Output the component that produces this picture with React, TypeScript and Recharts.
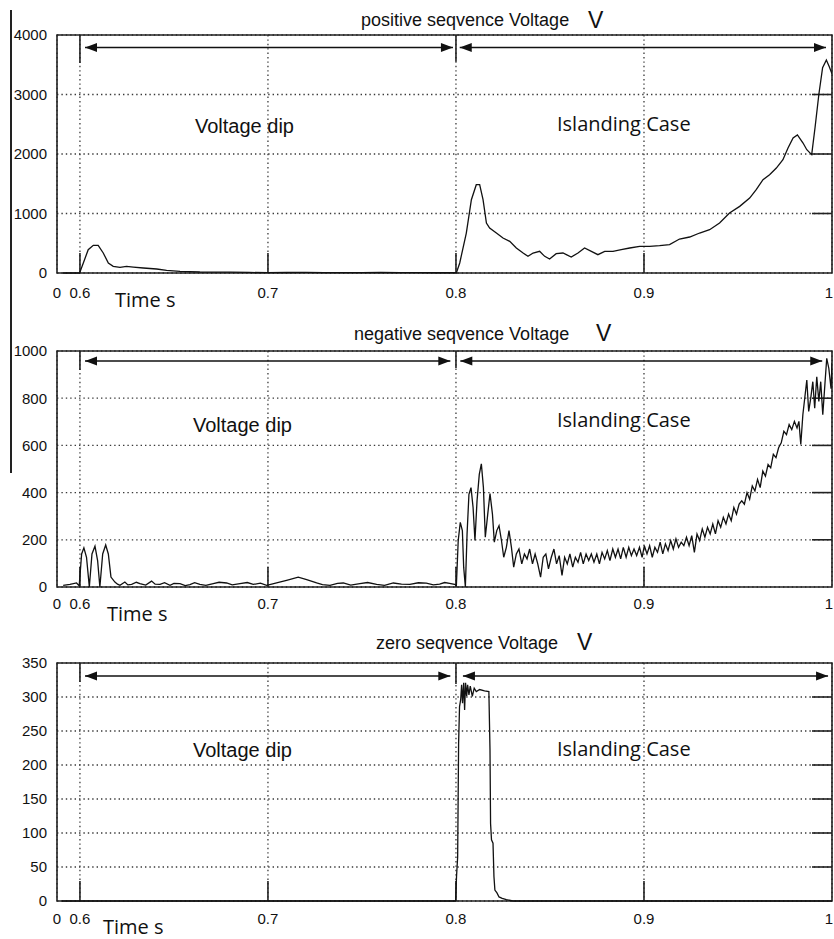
import React from 'react';
import { LineChart, Line, XAxis, YAxis, CartesianGrid, ReferenceLine, ReferenceArea } from 'recharts';

// left edge of the time axis is labelled "0" (broken axis), then 0.6 ... 1
const X_ZERO = 0.5878;
const xTicks = [X_ZERO, 0.6, 0.7, 0.8, 0.9, 1];
const innerXTicks = [0.6, 0.7, 0.8, 0.9];

const posTicks = [0, 1000, 2000, 3000, 4000];
const negTicks = [0, 200, 400, 600, 800, 1000];
const zeroTicks = [0, 50, 100, 150, 200, 250, 300, 350];

// [time s, volts]
const positiveSeq: [number, number][] = [
  [0.591, 0], [0.5998, 0], [0.6018, 168], [0.6044, 392], [0.6071, 465], [0.6097, 465], [0.6124, 336],
  [0.6151, 168], [0.6177, 112], [0.6213, 95], [0.6248, 112], [0.6284, 100], [0.6337, 84], [0.6408, 67],
  [0.6461, 45], [0.6532, 28], [0.6638, 17], [0.68, 14], [0.69, 9], [0.7, 6], [0.71, 8], [0.72, 10],
  [0.73, 7], [0.74, 6], [0.75, 5], [0.76, 8], [0.77, 5], [0.78, 6], [0.79, 4], [0.7998, 5],
  [0.8002, 0], [0.802, 168], [0.8055, 672], [0.8082, 1232], [0.8108, 1484], [0.8126, 1484], [0.8144, 1232],
  [0.8162, 840], [0.8179, 756], [0.8215, 672], [0.825, 588], [0.8286, 532], [0.8321, 420], [0.8357, 336],
  [0.8383, 280], [0.841, 336], [0.8445, 364], [0.8472, 280], [0.8498, 235], [0.8533, 325], [0.8569, 336],
  [0.8613, 269], [0.8649, 336], [0.8684, 420], [0.872, 364], [0.8755, 308], [0.8791, 364], [0.8835, 364],
  [0.8879, 392], [0.8924, 420], [0.8977, 448], [0.903, 448], [0.9083, 459], [0.9136, 476], [0.9189, 571],
  [0.9243, 605], [0.9296, 672], [0.9349, 728], [0.9402, 840], [0.9455, 1008], [0.9509, 1120], [0.9562, 1260],
  [0.9597, 1400], [0.9633, 1568], [0.9668, 1652], [0.9704, 1764], [0.9739, 1904], [0.9766, 2100],
  [0.9793, 2268], [0.9816, 2320], [0.9846, 2184], [0.9866, 2072], [0.9892, 1990], [0.991, 2450],
  [0.993, 3000], [0.995, 3450], [0.997, 3580], [0.9985, 3470], [1, 3350],
];

const negativeSeq: [number, number][] = [
  [0.5911, 7], [0.5947, 11], [0.5982, 17], [0.5996, 5], [0.6009, 140], [0.6021, 166], [0.6035, 126],
  [0.605, 0], [0.6064, 140], [0.608, 173], [0.6094, 112], [0.6106, 0], [0.6121, 140], [0.6137, 178],
  [0.6151, 140], [0.6165, 42], [0.6186, 21], [0.62, 12], [0.6213, 7], [0.6239, 21], [0.6255, 9],
  [0.6275, 11], [0.63, 20], [0.6319, 14], [0.635, 8], [0.6381, 25], [0.64, 12], [0.6426, 11], [0.645, 18],
  [0.6479, 7], [0.65, 15], [0.6532, 14], [0.656, 6], [0.6585, 10], [0.661, 18], [0.6638, 11], [0.667, 7],
  [0.6709, 14], [0.674, 20], [0.678, 17], [0.681, 9], [0.6851, 14], [0.689, 19], [0.6922, 11], [0.696, 16],
  [0.6993, 7], [0.702, 12], [0.7046, 17], [0.7099, 28], [0.7161, 42], [0.7206, 31], [0.7259, 17], [0.729, 10],
  [0.733, 7], [0.737, 15], [0.7401, 17], [0.744, 8], [0.7489, 14], [0.753, 19], [0.7578, 11], [0.762, 7],
  [0.7667, 17], [0.771, 12], [0.7755, 11], [0.78, 18], [0.7842, 16], [0.788, 9], [0.7913, 12], [0.794, 19],
  [0.7966, 15], [0.7998, 10],
  [0.8002, 3], [0.8012, 197], [0.8023, 274], [0.8034, 239], [0.8041, 84], [0.805, 0], [0.8059, 225],
  [0.8069, 393], [0.808, 421], [0.8091, 337], [0.8101, 197], [0.8112, 365], [0.8124, 477], [0.8135, 522],
  [0.8146, 421], [0.8156, 211], [0.8169, 309], [0.8181, 396], [0.8194, 309], [0.8204, 190], [0.8217, 239],
  [0.8229, 260], [0.8242, 197], [0.8254, 126], [0.8268, 168], [0.8282, 239], [0.8295, 168], [0.8307, 84],
  [0.8321, 140], [0.8335, 161], [0.835, 98], [0.8364, 140], [0.8378, 119], [0.8392, 161], [0.8407, 98],
  [0.8421, 140], [0.8435, 98], [0.845, 42], [0.8464, 126], [0.8478, 140], [0.8492, 77], [0.8507, 126],
  [0.8521, 161], [0.8535, 98], [0.8549, 133], [0.8564, 49], [0.8578, 126], [0.8592, 98], [0.8606, 140],
  [0.8621, 84], [0.8635, 126], [0.8649, 105], [0.8663, 147], [0.8677, 98], [0.8692, 140], [0.8706, 112],
  [0.872, 140], [0.8734, 105], [0.8749, 140], [0.8763, 98], [0.8777, 147], [0.8791, 119], [0.8805, 154],
  [0.8819, 112], [0.8834, 161], [0.8848, 126], [0.8862, 161], [0.8876, 119], [0.889, 168], [0.8905, 126],
  [0.8919, 168], [0.8933, 133], [0.8947, 161], [0.8961, 133], [0.8976, 168], [0.899, 126], [0.9002, 175],
  [0.9016, 140], [0.903, 175], [0.9044, 126], [0.9058, 168], [0.9072, 147], [0.9086, 190], [0.91, 140],
  [0.9114, 183], [0.9128, 154], [0.9142, 197], [0.9156, 161], [0.917, 204], [0.9184, 168], [0.9198, 190],
  [0.9212, 175], [0.9226, 211], [0.924, 175], [0.9254, 218], [0.9268, 147], [0.9282, 225], [0.9296, 197],
  [0.931, 246], [0.9324, 211], [0.9338, 253], [0.9352, 225], [0.9366, 267], [0.938, 225], [0.9394, 281],
  [0.9408, 253], [0.9422, 295], [0.9436, 267], [0.945, 309], [0.9464, 281], [0.9478, 337], [0.9492, 309],
  [0.9506, 351], [0.952, 365], [0.9534, 351], [0.9548, 400], [0.9562, 372], [0.9576, 428], [0.959, 407],
  [0.9604, 456], [0.9618, 421], [0.9632, 491], [0.9646, 470], [0.966, 519], [0.9674, 505], [0.9688, 562],
  [0.9702, 548], [0.9716, 590], [0.973, 611], [0.9744, 660], [0.9758, 646], [0.9772, 688], [0.9786, 667],
  [0.98, 702], [0.9814, 674], [0.9824, 702], [0.9834, 604], [0.9845, 730], [0.9855, 800], [0.9866, 877],
  [0.9876, 744], [0.9887, 800], [0.9898, 870], [0.9908, 758], [0.9919, 891], [0.993, 786], [0.994, 870],
  [0.9951, 730], [0.9962, 856], [0.9972, 969], [0.9983, 927], [0.9995, 840], [1, 950],
];

const zeroSeq: [number, number][] = [
  [0.5903, 0], [0.7998, 0], [0.8003, 36], [0.8009, 65], [0.8014, 232], [0.8019, 286], [0.8025, 296],
  [0.803, 318], [0.8035, 291], [0.8041, 321], [0.8046, 281], [0.8051, 321], [0.8057, 301], [0.8062, 318],
  [0.8069, 303], [0.8076, 316], [0.8087, 301], [0.8097, 313], [0.8108, 308], [0.8126, 311], [0.8152, 309],
  [0.8175, 308], [0.8181, 222], [0.8184, 114], [0.8189, 90], [0.8197, 85], [0.8202, 36], [0.8207, 16],
  [0.8218, 12], [0.8229, 6], [0.8246, 4], [0.8268, 2], [0.8303, 0], [1, 0],
];

const toRows = (pts: [number, number][]) => pts.map(([t, v]) => ({ t, v }));

const FONT = '"Liberation Sans", Arial, sans-serif';
const tickFont = { fill: '#111', fontSize: 15, fontFamily: FONT };

// x tick: first one reads "0", last one ("1") is pulled inside the picture
const XTick = (props: any) => {
  const { x, y, payload } = props;
  const v = payload.value;
  const last = v === 1;
  return (
    <text x={last ? x + 1 : x} y={y} dy="0.71em" textAnchor={last ? 'end' : 'middle'} fill="#111" fontSize={15} fontFamily={FONT}>
      {v === X_ZERO ? '0' : String(v)}
    </text>
  );
};

const ArrowShape = (props: any) => {
  const { x1, y1, x2, y2 } = props;
  const h = 12;
  const w = 4.5;
  return (
    <g>
      <line x1={x1} y1={y1} x2={x2} y2={y2} stroke="#111" strokeWidth={1.5} />
      <polygon points={`${x1},${y1} ${x1 + h},${y1 - w} ${x1 + h},${y1 + w}`} fill="#111" />
      <polygon points={`${x2},${y2} ${x2 - h},${y2 - w} ${x2 - h},${y2 + w}`} fill="#111" />
    </g>
  );
};

type PanelProps = {
  top: number;
  height: number;
  marginTop: number;
  marginBottom: number;
  tickGap: number;
  series: [number, number][];
  yTicks: number[];
  arrowY: number;
  arrows: [number, number][];
  markerEnds: [number, number];
};

function Panel({ top, height, marginTop, marginBottom, tickGap, series, yTicks, arrowY, arrows, markerEnds }: PanelProps) {
  const yMax = yTicks[yTicks.length - 1];
  const plotH = height - marginTop - marginBottom - 30;
  const tickLen = (20 / plotH) * yMax;
  const rightTickStart = 1 - (20 * (1 - X_ZERO)) / 775;
  return (
    <div style={{ position: 'absolute', left: 0, top }}>
      <LineChart width={834} height={height} data={toRows(series)} margin={{ top: marginTop, right: 2, bottom: marginBottom, left: 0 }}>
        <CartesianGrid stroke="#3a3a3a" strokeWidth={1.3} strokeDasharray="1.4 3" />
        <XAxis
          type="number"
          dataKey="t"
          domain={[X_ZERO, 1]}
          ticks={xTicks}
          interval={0}
          allowDataOverflow
          height={30}
          axisLine={false}
          tickLine={false}
          tickSize={0}
          tickMargin={tickGap}
          tick={XTick}
        />
        <YAxis
          type="number"
          domain={[0, yMax]}
          ticks={yTicks}
          interval={0}
          width={57}
          axisLine={false}
          tickLine={false}
          tickSize={0}
          tickMargin={10}
          tick={tickFont}
        />
        <ReferenceArea x1={X_ZERO} x2={1} y1={0} y2={yMax} fill="none" stroke="#222" strokeWidth={1.6} />
        {innerXTicks.map((x) => (
          <ReferenceLine key={`b${x}`} segment={[{ x, y: 0 }, { x, y: tickLen }]} stroke="#222" strokeWidth={1.6} />
        ))}
        {yTicks.slice(1, -1).map((y) => (
          <ReferenceLine key={`r${y}`} segment={[{ x: rightTickStart, y }, { x: 1, y }]} stroke="#222" strokeWidth={1.6} />
        ))}
        <ReferenceLine segment={[{ x: 0.6, y: yMax }, { x: 0.6, y: markerEnds[0] }]} stroke="#222" strokeWidth={1.6} />
        <ReferenceLine segment={[{ x: 0.8, y: yMax }, { x: 0.8, y: markerEnds[1] }]} stroke="#222" strokeWidth={1.6} />
        {arrows.map(([a, b]) => (
          <ReferenceLine key={`a${a}`} segment={[{ x: a, y: arrowY }, { x: b, y: arrowY }]} shape={ArrowShape} />
        ))}
        <Line type="linear" dataKey="v" stroke="#111" strokeWidth={1.3} dot={false} isAnimationActive={false} />
      </LineChart>
    </div>
  );
}

const Txt = ({ x, y, size, font, children }: { x: number; y: number; size: number; font?: string; children: React.ReactNode }) => (
  <div
    style={{
      position: 'absolute',
      left: x,
      top: y,
      fontSize: size,
      lineHeight: 1,
      whiteSpace: 'nowrap',
      color: '#111',
      fontFamily: font || FONT,
    }}
  >
    {children}
  </div>
);

const OPEN = '"Open Sans", "Noto Sans", sans-serif';

export default function App() {
  return (
    <div style={{ position: 'absolute', left: 0, top: 0, width: 834, height: 939, background: '#fff', overflow: 'hidden' }}>
      <div style={{ position: 'absolute', left: 10, top: 10, width: 1.5, height: 463, background: '#222' }} />
      <Panel
        top={0}
        height={310}
        marginTop={35}
        marginBottom={7}
        tickGap={14}
        series={positiveSeq}
        yTicks={posTicks}
        arrowY={3790}
        arrows={[[0.6027, 0.7984], [0.802, 0.9968]]}
        markerEnds={[3530, 3550]}
      />
      <Panel
        top={310}
        height={310}
        marginTop={41}
        marginBottom={3}
        tickGap={11}
        series={negativeSeq}
        yTicks={negTicks}
        arrowY={958}
        arrows={[[0.6027, 0.797], [0.8023, 0.9948]]}
        markerEnds={[919, 928]}
      />
      <Panel
        top={620}
        height={319}
        marginTop={43}
        marginBottom={8}
        tickGap={12}
        series={zeroSeq}
        yTicks={zeroTicks}
        arrowY={331}
        arrows={[[0.6027, 0.797], [0.8037, 0.9979]]}
        markerEnds={[322, 319]}
      />

      <Txt x={361} y={11} size={18}>positive seqvence Voltage</Txt>
      <Txt x={588} y={9} size={23}>V</Txt>
      <Txt x={354} y={325} size={18}>negative seqvence Voltage</Txt>
      <Txt x={596} y={322} size={23}>V</Txt>
      <Txt x={376} y={634} size={18}>zero seqvence Voltage</Txt>
      <Txt x={577} y={631} size={23}>V</Txt>

      <Txt x={195} y={116} size={20}>Voltage dip</Txt>
      <Txt x={557} y={114} size={20} font={OPEN}>Islanding Case</Txt>
      <Txt x={193} y={415} size={20}>Voltage dip</Txt>
      <Txt x={557} y={410} size={20} font={OPEN}>Islanding Case</Txt>
      <Txt x={193} y={740} size={20}>Voltage dip</Txt>
      <Txt x={557} y={739} size={20} font={OPEN}>Islanding Case</Txt>

      <Txt x={115} y={290} size={20} font={OPEN}>Time s</Txt>
      <Txt x={107} y={604} size={20} font={OPEN}>Time s</Txt>
      <Txt x={103} y={917} size={20} font={OPEN}>Time s</Txt>
    </div>
  );
}
